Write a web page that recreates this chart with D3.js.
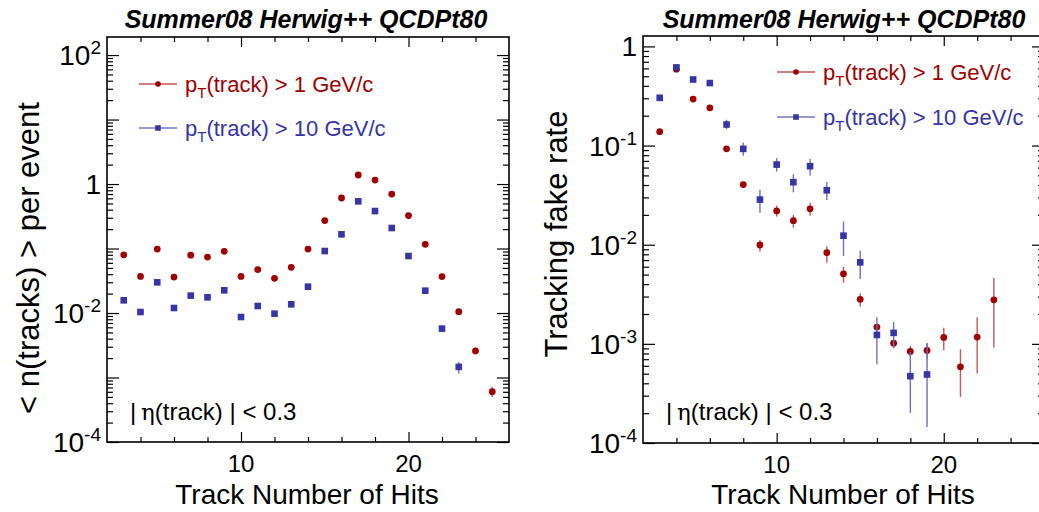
<!DOCTYPE html>
<html>
<head>
<meta charset="utf-8">
<script src="https://cdn.jsdelivr.net/npm/d3@7"></script>
<style>
  html, body { margin: 0; padding: 0; background: #fff; }
  svg { display: block; font-family: "Liberation Sans", Arial, sans-serif; }
</style>
</head>
<body>
<svg id="chart" width="1039" height="512"></svg>
<script>
// ---------------- data ----------------
const titleText = "Summer08 Herwig++ QCDPt80";
const xTitle = "Track Number of Hits";
const yTitleLeft = "< n(tracks) > per event";
const yTitleRight = "Tracking fake rate";
const legendLow = "(track) > 1 GeV/c";
const legendHigh = "(track) > 10 GeV/c";
const etaCutText = "(track) | < 0.3";
const xTickLabels = [10, 20];

// left panel: mean number of tracks per event
const leftRedHits = [3,4,5,6,7,8,9,10,11,12,13,14,15,16,17,18,19,20,21,22,23,24,25];
const leftRedVals = [0.080,0.037,0.098,0.0361,0.079,0.0738,0.0906,0.037,0.0471,0.0345,0.0511,0.098,0.271,0.607,1.38,1.15,0.70,0.324,0.116,0.0367,0.0105,0.00258,0.000604];
const leftRedHi   = [null,null,null,null,null,null,null,null,null,null,null,null,null,null,null,null,null,null,null,null,null,0.0028,0.000712];
const leftRedLo   = [null,null,null,null,null,null,null,null,null,null,null,null,null,null,null,null,null,null,null,null,null,0.0024,0.000499];

const leftBlueHits = [3,4,5,6,7,8,9,10,11,12,13,14,15,16,17,18,19,20,21,22,23];
const leftBlueVals = [0.01574,0.01037,0.0299,0.01196,0.01862,0.0175,0.0225,0.00867,0.01285,0.00977,0.01365,0.0256,0.0915,0.166,0.539,0.381,0.208,0.0765,0.0222,0.00573,0.00146];
const leftBlueHi   = [null,null,null,null,null,null,null,null,null,null,null,null,null,null,null,null,null,null,null,null,0.00174];
const leftBlueLo   = [null,null,null,null,null,null,null,null,null,null,null,null,null,null,null,null,null,null,null,null,0.00115];

// right panel: tracking fake rate
const rightRedHits = [3,4,5,6,7,8,9,10,11,12,13,14,15,16,17,18,19,20,21,22,23];
const rightRedVals = [0.138,0.59,0.294,0.240,0.0927,0.0404,0.00993,0.0219,0.01746,0.0230,0.0083,0.00509,0.00281,0.001475,0.001016,0.000838,0.000858,0.00116,0.000586,0.00117,0.00278];
const rightRedHi   = [null,null,null,null,null,null,0.0111,0.0248,0.0200,0.0265,0.00966,0.0060,0.00323,0.00161,0.00109,0.000955,0.00101,0.00145,0.000884,0.00185,0.00461];
const rightRedLo   = [null,null,null,null,null,null,0.00849,0.0192,0.01486,0.0196,0.00658,0.00413,0.00237,0.00129,0.0009,0.00074,0.00070,0.000864,0.000292,0.000502,0.000912];

const rightBlueHits = [3,4,5,6,7,8,9,10,11,12,13,14,15,16,17,18,19];
const rightBlueVals = [0.303,0.614,0.464,0.427,0.163,0.0926,0.0285,0.0643,0.0427,0.0619,0.0354,0.01233,0.00664,0.00123,0.00129,0.000472,0.000491];
const rightBlueHi   = [null,null,null,null,0.182,0.107,0.0357,0.0746,0.0514,0.0733,0.0430,0.01708,0.00869,0.00185,0.00166,0.00083,0.00102];
const rightBlueLo   = [null,null,null,null,0.1466,0.0787,0.0210,0.0546,0.0338,0.0498,0.0283,0.0077,0.00451,0.000624,0.000912,0.000201,0.000145];

const RED = "#a00000";
const BLUE = "#3535a6";
const RED_ERR = "#c25a5a";
const BLUE_ERR = "#6f6fc0";

// ---------------- drawing ----------------
const svg = d3.select("#chart");

function zip(h, v, hi, lo) {
  return h.map((x, i) => ({ x, y: v[i], hi: hi[i], lo: lo[i] }));
}

function powLabel(sel, exp, anchorX, y) {
  const t = sel.append("text")
    .attr("x", anchorX).attr("y", y)
    .attr("text-anchor", "end")
    .attr("font-size", 28)
    .attr("fill", "#000");
  if (exp === 0) {
    t.text("1");
  } else {
    t.append("tspan").text("10");
    t.append("tspan").attr("font-size", 19).attr("dy", -11).text(String(exp));
  }
}

function drawPanel(cfg) {
  const g = svg.append("g");
  const x = d3.scaleLinear().domain([2, 26]).range([cfg.x0, cfg.x1]);
  const y = d3.scaleLog().domain([1e-4, cfg.yMax]).range([cfg.y1, cfg.y0]);

  // title
  g.append("text")
    .attr("x", cfg.titleX).attr("y", 28)
    .attr("text-anchor", "middle")
    .attr("font-size", 25).attr("font-weight", "bold").attr("font-style", "italic")
    .text(titleText);

  // x ticks (bottom / top) via d3 axes
  const xMinor = d3.range(4, 26, 2).filter(v => v % 10 !== 0);
  const xMajor = [10, 20];
  const mkX = (axisFn, vals, len) => axisFn(x).tickValues(vals).tickSize(len).tickFormat("");
  const bottomMinor = g.append("g").attr("transform", `translate(0,${cfg.y1})`).call(mkX(d3.axisBottom, xMinor, -5));
  const bottomMajor = g.append("g").attr("transform", `translate(0,${cfg.y1})`).call(mkX(d3.axisBottom, xMajor, -10));
  const topMinor = g.append("g").attr("transform", `translate(0,${cfg.y0})`).call(mkX(d3.axisTop, xMinor, -5));
  const topMajor = g.append("g").attr("transform", `translate(0,${cfg.y0})`).call(mkX(d3.axisTop, xMajor, -10));

  // y ticks (log)
  const lo = -4, hiExp = Math.floor(Math.log10(cfg.yMax));
  const yMajor = d3.range(lo, hiExp + 1).map(e => Math.pow(10, e));
  const yMinor = [];
  for (let e = lo; e <= hiExp; e++) for (let m = 2; m <= 9; m++) {
    const v = m * Math.pow(10, e);
    if (v < cfg.yMax) yMinor.push(v);
  }
  const mkY = (axisFn, vals, len) => axisFn(y).tickValues(vals).tickSize(len).tickFormat("");
  const yAxes = [
    g.append("g").attr("transform", `translate(${cfg.x0},0)`).call(mkY(d3.axisLeft, yMinor, -6)),
    g.append("g").attr("transform", `translate(${cfg.x0},0)`).call(mkY(d3.axisLeft, yMajor, -12)),
    g.append("g").attr("transform", `translate(${cfg.x1},0)`).call(mkY(d3.axisRight, yMinor, -6)),
    g.append("g").attr("transform", `translate(${cfg.x1},0)`).call(mkY(d3.axisRight, yMajor, -12))
  ];
  [bottomMinor, bottomMajor, topMinor, topMajor, ...yAxes].forEach(a => {
    a.select(".domain").remove();
    a.selectAll("line").attr("stroke", "#000").attr("stroke-width", 1.2);
  });

  // frame
  g.append("rect")
    .attr("x", cfg.x0).attr("y", cfg.y0)
    .attr("width", cfg.x1 - cfg.x0).attr("height", cfg.y1 - cfg.y0)
    .attr("fill", "none").attr("stroke", "#000").attr("stroke-width", 1.6);

  // x labels
  xTickLabels.forEach(v => {
    g.append("text").attr("x", x(v)).attr("y", cfg.y1 + 30)
      .attr("text-anchor", "middle").attr("font-size", 24).text(v);
  });
  // y labels
  cfg.yLabelExps.forEach(e => powLabel(g, e, cfg.x0 - 6, y(Math.pow(10, e)) + 10));

  // axis titles
  g.append("text").attr("x", cfg.xTitleX).attr("y", 504)
    .attr("text-anchor", "middle").attr("font-size", 28).text(xTitle);
  g.append("text")
    .attr("transform", `translate(${cfg.yTitleX},${cfg.yTitleY}) rotate(-90)`)
    .attr("text-anchor", "middle").attr("font-size", cfg.yTitleSize).text(cfg.yTitle);

  // eta label
  const et = g.append("text").attr("x", cfg.etaX).attr("y", 420).attr("font-size", 24);
  et.append("tspan").text("|\u2009");
  et.append("tspan").attr("font-family", "DejaVu Serif, Liberation Serif, serif").attr("font-size", 23).text("\u03b7");
  et.append("tspan").text(etaCutText);

  // data
  const series = [
    { data: cfg.red, color: RED, err: RED_ERR, shape: "circle" },
    { data: cfg.blue, color: BLUE, err: BLUE_ERR, shape: "square" }
  ];
  series.forEach(s => {
    const pts = g.append("g");
    pts.selectAll("line.err").data(s.data.filter(d => d.hi != null)).join("line")
      .attr("class", "err")
      .attr("x1", d => x(d.x)).attr("x2", d => x(d.x))
      .attr("y1", d => y(d.hi)).attr("y2", d => y(d.lo))
      .attr("stroke", s.err).attr("stroke-width", 1.4);
    if (s.shape === "circle") {
      pts.selectAll("circle").data(s.data).join("circle")
        .attr("cx", d => x(d.x)).attr("cy", d => y(d.y)).attr("r", 3.4).attr("fill", s.color);
    } else {
      pts.selectAll("rect").data(s.data).join("rect")
        .attr("x", d => x(d.x) - 3.3).attr("y", d => y(d.y) - 3.3)
        .attr("width", 6.6).attr("height", 6.6).attr("fill", s.color);
    }
  });

  // legend
  const L = cfg.legend;
  [
    { yy: L.y1, color: RED, text: legendLow, shape: "circle" },
    { yy: L.y2, color: BLUE, text: legendHigh, shape: "square" }
  ].forEach(it => {
    g.append("line").attr("x1", L.lx1).attr("x2", L.lx2).attr("y1", it.yy).attr("y2", it.yy)
      .attr("stroke", it.color).attr("stroke-width", 1.2);
    const mx = (L.lx1 + L.lx2) / 2;
    if (it.shape === "circle") g.append("circle").attr("cx", mx).attr("cy", it.yy).attr("r", 2.8).attr("fill", it.color);
    else g.append("rect").attr("x", mx - 2.8).attr("y", it.yy - 2.8).attr("width", 5.6).attr("height", 5.6).attr("fill", it.color);
    const t = g.append("text").attr("x", L.tx).attr("y", it.yy + 8).attr("font-size", 22).attr("fill", it.color);
    t.append("tspan").text("p");
    t.append("tspan").attr("font-size", 15).attr("dy", 6).text("T");
    t.append("tspan").attr("dy", -6).text(it.text);
  });
}

drawPanel({
  x0: 107, x1: 509, y0: 37, y1: 442,
  yMax: Math.pow(10, 2.28),
  titleX: 306, xTitleX: 307,
  yLabelExps: [-4, -2, 0, 2],
  yTitle: yTitleLeft, yTitleX: 39, yTitleY: 258, yTitleSize: 31,
  etaX: 130,
  red: zip(leftRedHits, leftRedVals, leftRedHi, leftRedLo),
  blue: zip(leftBlueHits, leftBlueVals, leftBlueHi, leftBlueLo),
  legend: { lx1: 139, lx2: 177, tx: 185, y1: 84, y2: 128 }
});

drawPanel({
  x0: 643, x1: 1044, y0: 36, y1: 443,
  yMax: Math.pow(10, 0.105),
  titleX: 844, xTitleX: 843,
  yLabelExps: [-4, -3, -2, -1, 0],
  yTitle: yTitleRight, yTitleX: 567, yTitleY: 234, yTitleSize: 31,
  etaX: 666,
  red: zip(rightRedHits, rightRedVals, rightRedHi, rightRedLo),
  blue: zip(rightBlueHits, rightBlueVals, rightBlueHi, rightBlueLo),
  legend: { lx1: 777, lx2: 815, tx: 823, y1: 72, y2: 117 }
});
</script>
</body>
</html>
